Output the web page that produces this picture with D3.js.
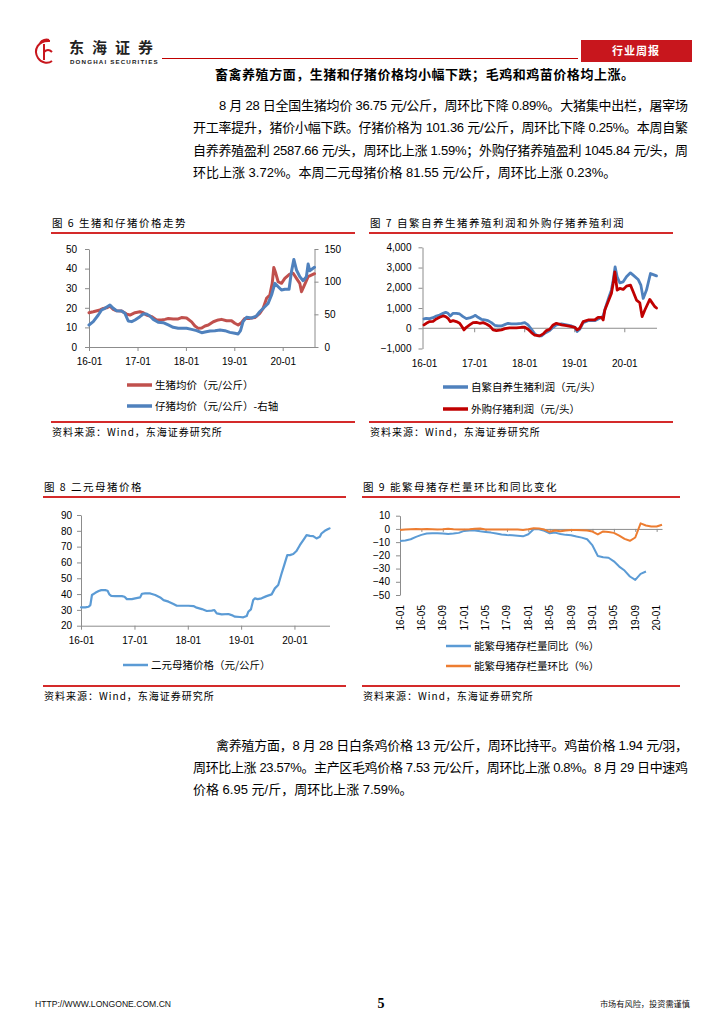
<!DOCTYPE html>
<html><head><meta charset="utf-8">
<script src="https://cdn.jsdelivr.net/npm/d3@7"></script>
<style>body{margin:0;background:#fff}svg{display:block}</style>
</head><body>
<svg id="c" width="724" height="1024"></svg>
<script>
// ---------- DATA ----------
const hogDates = ["2016-01-01","2016-02-02","2016-03-24","2016-04-18","2016-05-13","2016-06-07","2016-07-02","2016-07-27","2016-09-03","2016-10-11","2016-11-05","2016-12-13","2017-01-19","2017-02-13","2017-03-10","2017-04-17","2017-05-25","2017-07-01","2017-07-27","2017-08-21","2017-09-27","2017-11-04","2017-11-29","2018-01-06","2018-02-13","2018-03-10","2018-04-05","2018-04-30","2018-05-25","2018-06-19","2018-07-27","2018-09-02","2018-09-27","2018-11-04","2018-12-11","2019-01-05","2019-01-30","2019-02-24","2019-03-21","2019-04-28","2019-06-05","2019-07-12","2019-08-06","2019-09-01","2019-09-26","2019-10-14","2019-10-26","2019-11-10","2019-11-28","2019-12-23","2020-01-17","2020-02-23","2020-03-20","2020-04-14","2020-05-09","2020-05-22","2020-06-08","2020-07-11","2020-08-28"];
const hogPrice = [17.5,18,18.9,19.7,20,20.8,19.2,18.5,18.4,16.8,16.3,17.5,18,17.5,16.3,15.5,13.8,13.8,14.1,14.5,14.3,14.3,15,14.8,12.8,10.7,9.5,9.7,10.7,11.2,12.9,13.8,14.1,13.4,13.4,12.1,11.2,12.4,14.6,14.6,15,17.2,19.7,24.8,26.5,32.5,40.6,37.6,33.3,32.5,35,37.2,37.6,35,32.5,28.2,30.8,35.9,37.4];
const pigletDates = ["2016-01-01","2016-02-02","2016-03-11","2016-04-05","2016-04-30","2016-06-07","2016-07-02","2016-07-27","2016-09-03","2016-09-28","2016-10-23","2016-11-18","2016-12-13","2017-01-19","2017-02-13","2017-03-10","2017-04-04","2017-04-30","2017-06-06","2017-07-14","2017-08-21","2017-09-27","2017-11-04","2017-12-12","2018-01-06","2018-02-13","2018-03-23","2018-04-30","2018-05-25","2018-07-02","2018-08-08","2018-09-15","2018-10-22","2018-11-29","2019-01-05","2019-01-30","2019-02-17","2019-03-08","2019-04-03","2019-05-11","2019-06-17","2019-07-12","2019-08-19","2019-09-13","2019-10-09","2019-11-03","2019-11-28","2019-12-23","2020-01-17","2020-02-18","2020-03-07","2020-03-25","2020-04-14","2020-05-09","2020-06-03","2020-06-28","2020-07-11","2020-07-23","2020-08-28"];
const pigletPrice = [33.7,38.8,49,56.6,59.2,64.3,59.2,55.6,55,51.5,39.8,38.8,41.3,46.4,50.5,50.5,47.4,42.3,37.8,37.2,33.7,30.1,28.6,28.6,28.6,27,25,21.9,23,24.5,25,26,25,22.4,20.9,19.9,25,38.8,45.4,44.4,47.4,54,61.7,66.8,79.6,97.4,92.3,87.2,88.3,88.3,115,134,117.9,107.7,101.5,107.7,127,116.8,122];

const selfDates = ["2016-01-01","2016-01-18","2016-02-11","2016-03-07","2016-03-31","2016-04-24","2016-05-19","2016-06-07","2016-06-24","2016-07-11","2016-07-31","2016-08-24","2016-09-17","2016-10-12","2016-11-05","2016-11-29","2016-12-24","2017-01-10","2017-01-29","2017-02-22","2017-03-19","2017-04-12","2017-05-07","2017-05-31","2017-06-24","2017-07-19","2017-08-12","2017-09-05","2017-09-29","2017-11-05","2017-12-12","2018-01-05","2018-01-29","2018-02-23","2018-03-19","2018-04-12","2018-05-07","2018-05-31","2018-07-06","2018-07-31","2018-08-24","2018-09-30","2018-11-05","2018-12-12","2019-01-05","2019-01-22","2019-02-10","2019-03-07","2019-04-12","2019-05-31","2019-07-06","2019-07-31","2019-08-19","2019-09-12","2019-09-29","2019-10-12","2019-10-26","2019-11-10","2019-11-29","2019-12-24","2020-01-17","2020-02-15","2020-03-06","2020-04-11","2020-05-01","2020-05-18","2020-06-11","2020-07-10","2020-08-04","2020-08-23"];
const selfProfit = [459,490,475,525,607,656,738,787,738,607,738,738,705,574,475,508,574,640,541,443,410,377,279,148,115,115,180,246,213,213,246,279,164,-49,-279,-377,-377,-246,-115,49,164,213,164,115,49,-164,-49,279,377,377,492,607,1066,1557,1885,2377,3033,2541,2246,2295,2541,2738,2623,2410,2131,1475,1885,2705,2639,2588];
const buyDates = ["2016-01-01","2016-01-18","2016-02-11","2016-03-07","2016-03-31","2016-04-24","2016-05-19","2016-06-07","2016-06-24","2016-07-11","2016-07-31","2016-08-24","2016-09-17","2016-10-07","2016-10-19","2016-11-05","2016-11-29","2016-12-24","2017-01-17","2017-02-10","2017-03-07","2017-03-31","2017-04-24","2017-05-19","2017-06-12","2017-07-19","2017-08-12","2017-09-17","2017-11-05","2017-12-12","2018-01-05","2018-01-29","2018-02-23","2018-03-19","2018-04-24","2018-05-19","2018-06-12","2018-07-06","2018-07-31","2018-08-24","2018-09-30","2018-11-05","2018-12-12","2019-01-05","2019-01-22","2019-02-10","2019-03-07","2019-04-12","2019-05-31","2019-06-24","2019-07-18","2019-07-31","2019-08-12","2019-09-05","2019-09-29","2019-10-12","2019-10-24","2019-11-10","2019-11-29","2019-12-24","2020-01-17","2020-02-15","2020-03-06","2020-03-30","2020-04-23","2020-05-10","2020-05-30","2020-06-16","2020-07-05","2020-07-25","2020-08-11","2020-08-23"];
const buyProfit = [164,246,328,344,459,541,607,574,492,328,377,328,246,49,-82,49,164,279,295,246,279,213,115,-82,-115,-82,-16,16,16,49,49,-49,-213,-344,-377,-279,-115,-49,164,246,164,131,82,49,-82,0,328,410,410,541,541,410,902,1311,1721,2213,2787,1885,1967,1918,2082,2131,1803,1393,1262,574,902,1148,1426,1230,1066,1000];

const sowDates = ["2016-01-01","2016-01-30","2016-02-22","2016-03-05","2016-03-16","2016-04-08","2016-05-01","2016-05-19","2016-06-15","2016-07-01","2016-07-13","2016-07-26","2016-08-23","2016-10-07","2016-10-25","2016-11-10","2016-12-14","2017-01-06","2017-02-09","2017-02-21","2017-03-15","2017-04-19","2017-05-23","2017-06-26","2017-07-19","2017-08-22","2017-09-25","2017-10-18","2017-11-21","2018-01-05","2018-02-09","2018-03-03","2018-04-07","2018-05-11","2018-06-14","2018-07-02","2018-07-18","2018-08-21","2018-10-06","2018-10-28","2018-11-20","2018-12-24","2019-01-16","2019-02-08","2019-02-19","2019-03-09","2019-03-25","2019-04-06","2019-04-24","2019-05-21","2019-06-24","2019-07-29","2019-08-20","2019-09-12","2019-10-05","2019-10-23","2019-11-13","2019-12-01","2019-12-24","2020-01-15","2020-02-07","2020-03-12","2020-03-24","2020-04-16","2020-05-08","2020-05-31","2020-06-23","2020-07-04","2020-07-27","2020-08-19","2020-08-28"];
const sowPrice = [31.6,31.6,32,33,39.4,40.8,41.9,42.5,42.5,42.1,39.8,38.9,38.7,38.7,38.3,36.8,36.8,37.3,37.9,40.2,40.4,40.4,39.4,37.9,36.2,35.2,33.7,32.6,32.6,32.6,32.4,31.4,30.5,29.3,29.5,29.9,27.8,27.2,27.4,26.7,25.7,25.5,25.3,26.1,28.8,30.3,36.2,37.3,36.8,37.3,38.7,39.8,43.6,45.7,53,58.3,64.6,64.6,65.3,67.2,70.9,75.6,77.3,76.8,76.6,75.2,76.2,78.3,80,81.1,81.55];

const sowMonths = ["16-01","16-02","16-03","16-04","16-05","16-06","16-07","16-08","16-09","16-10","16-11","16-12","17-01","17-02","17-03","17-04","17-05","17-06","17-07","17-08","17-09","17-10","17-11","17-12","18-01","18-02","18-03","18-04","18-05","18-06","18-07","18-08","18-09","18-10","18-11","18-12","19-01","19-02","19-03","19-04","19-05","19-06","19-07","19-08","19-09","19-10","19-11","19-12","20-01","20-02"];
const sowYoY = [-9.1,-8.8,-7.8,-6,-4.5,-3.5,-3.3,-3.3,-3.5,-3.8,-3.5,-3,-1.5,-1.2,-1.2,-1.8,-2.3,-2.8,-3.5,-4.3,-4.6,-4.8,-5.2,-5.6,-4,-0.3,-0.2,-1.5,-3.3,-2.8,-3.8,-4.5,-4.8,-5.8,-6.6,-7.8,-12.5,-20.5,-21.5,-21.8,-24.5,-28.5,-31.5,-36,-38.6,-34,-32.2];
const sowMoM = [-0.8,-0.5,-0.2,0,-0.3,0,-0.2,-0.5,-0.3,0.2,-0.3,-0.5,-0.5,-0.2,0.2,0.3,-0.5,-0.5,-0.5,-0.5,-0.5,-0.5,-0.5,-0.8,-0.3,0.5,0.3,-0.5,-2.2,-1.2,-1.8,-1.2,-0.8,-0.8,-1,-1.2,-2,-4.2,-1.9,-2.3,-3,-5,-7.5,-9,-6.5,4.2,2.6,1.8,1.8,3.2];

const ticks6L = [0,10,20,30,40,50], ticks6R = [0,50,100,150];
const ticks7 = [-1000,0,1000,2000,3000,4000];
const ticks8 = [20,30,40,50,60,70,80,90];
const ticks9 = [-50,-40,-30,-20,-10,0,10];
const yearTicks = ["2016-01-01","2017-01-01","2018-01-01","2019-01-01","2020-01-01"];

// ---------- SETUP ----------
const svg = d3.select("#c");
const P = d3.timeParse("%Y-%m-%d");
const FN = "'Liberation Sans','Noto Sans CJK SC',sans-serif";
const CJK = "'Noto Sans CJK SC','Liberation Sans',sans-serif";
const RED = "#c00000", AX = "#8c8c8c";
const yT = yearTicks.map(P);
const fmtY = d3.timeFormat("%y-%m");

function txt(x,y,s,o={}){
  const t = svg.append("text").attr("x",x).attr("y",y).text(s)
    .attr("font-family",o.ff||CJK).attr("font-size",o.fs||10).attr("fill",o.fill||"#000");
  if(o.anchor) t.attr("text-anchor",o.anchor);
  if(o.fw) t.attr("font-weight",o.fw);
  if(o.ls) t.attr("letter-spacing",o.ls);
  if(o.tl){ t.attr("textLength",o.tl).attr("lengthAdjust","spacing"); }
  return t;
}
function hline(x1,x2,y,c,w){ svg.append("line").attr("x1",x1).attr("x2",x2).attr("y1",y).attr("y2",y).attr("stroke",c).attr("stroke-width",w); }
function styleAxis(g){
  g.selectAll("path,line").attr("stroke",AX).attr("stroke-width",1);
  g.selectAll("text").attr("font-family",FN).attr("font-size",10).attr("fill","#000");
}
function drawLine(x,y,dates,vals,color,w){
  const pts = dates.map((d,i)=>({d:P(d),v:vals[i]}));
  svg.append("path").datum(pts).attr("fill","none").attr("stroke",color).attr("stroke-width",w)
    .attr("stroke-linejoin","round").attr("stroke-linecap","round")
    .attr("d",d3.line().x(p=>x(p.d)).y(p=>y(p.v)));
}
function legend(x,y,color,w,label){
  hline(x,x+25,y,color,w);
  txt(x+28,y+3.6,label,{fs:10.5});
}
function panelFrame(x1,x2,yTitleLine,yBottom,title){
  txt(x1+1,yTitleLine-6,title,{fs:10.5,ls:1.5});
  hline(x1,x2,yTitleLine,"#d42a2a",2);
  hline(x1,x2,yBottom,"#d42a2a",2);
  txt(x1+1,yBottom+14,"资料来源：Wind，东海证券研究所",{fs:10,ls:1});
}

// ---------- HEADER ----------
svg.append("path").attr("d","M50,41 C38,40 33,50 38,58 C41,63 48,64 52,61 M44,44 L44,60 M44,52 C47,49 50,50 52,52 M40,43 C42,40 46,39 49,40")
  .attr("fill","none").attr("stroke","#c8161d").attr("stroke-width",2);
txt(69,52.5,"东海证券",{fs:15,fw:"bold",ls:8,fill:"#222"});
txt(70,63.5,"DONGHAI SECURITIES",{ff:FN,fs:6.2,fw:"bold",ls:1.15,fill:"#222"});
hline(162,578,58.5,RED,1.2);
svg.append("rect").attr("x",581).attr("y",40).attr("width",111).attr("height",22).attr("fill","#c8161d");
txt(636,55,"行业周报",{fs:11,fw:"bold",fill:"#fff",anchor:"middle",ls:1});

// ---------- TOP TEXT ----------
txt(215,79,"畜禽养殖方面，生猪和仔猪价格均小幅下跌；毛鸡和鸡苗价格均上涨。",{fs:13,fw:"bold",tl:419});
const BF = "'Liberation Sans','Noto Sans CJK SC',sans-serif";
txt(219,109.5,"8 月 28 日全国生猪均价 36.75 元/公斤，周环比下降 0.89%。大猪集中出栏，屠宰场",{ff:BF,fs:13,tl:469});
txt(193,132,"开工率提升，猪价小幅下跌。仔猪价格为 101.36 元/公斤，周环比下降 0.25%。本周自繁",{ff:BF,fs:13,tl:495});
txt(193,154.5,"自养养殖盈利 2587.66 元/头，周环比上涨 1.59%；外购仔猪养殖盈利 1045.84 元/头，周",{ff:BF,fs:13,tl:495});
txt(193,177,"环比上涨 3.72%。本周二元母猪价格 81.55 元/公斤，周环比上涨 0.23%。",{ff:BF,fs:13});

// ---------- CHART 6 ----------
panelFrame(51,355,233,422,"图 6 生猪和仔猪价格走势");
{
  const x = d3.scaleTime().domain([P("2016-01-01"),P("2020-08-28")]).range([89,314.5]);
  const yL = d3.scaleLinear().domain([0,50]).range([347,249]);
  const yR = d3.scaleLinear().domain([0,150]).range([347,249]);
  const gx = svg.append("g").attr("transform","translate(0,347)")
    .call(d3.axisBottom(x).tickValues(yT).tickFormat(fmtY).tickSize(4).tickSizeOuter(0).tickPadding(7));
  styleAxis(gx);
  const gl = svg.append("g").attr("transform","translate(89,0)")
    .call(d3.axisLeft(yL).tickValues(ticks6L).tickSize(4).tickSizeOuter(0).tickPadding(8));
  styleAxis(gl);
  const gr = svg.append("g").attr("transform","translate(314.5,0)")
    .call(d3.axisRight(yR).tickValues(ticks6R).tickSize(4).tickSizeOuter(0).tickPadding(6));
  styleAxis(gr);
  drawLine(x,yL,hogDates,hogPrice,"#c0504d",3);
  drawLine(x,yR,pigletDates,pigletPrice,"#4f81bd",3);
  legend(127,385,"#c0504d",3.5,"生猪均价（元/公斤）");
  legend(127,406,"#4f81bd",3.5,"仔猪均价（元/公斤）-右轴");
}

// ---------- CHART 7 ----------
panelFrame(369,673,233,422,"图 7 自繁自养生猪养殖利润和外购仔猪养殖利润");
{
  const x = d3.scaleTime().domain([P("2016-01-01"),P("2020-08-23")]).range([424,656.5]);
  const y = d3.scaleLinear().domain([-1000,4000]).range([348.5,247.3]);
  const gz = svg.append("g").attr("transform",`translate(0,${y(0)})`)
    .call(d3.axisBottom(x).tickValues(yT.slice(1)).tickFormat("").tickSize(4).tickSizeOuter(0));
  gz.select(".domain").attr("d",`M422.5,0H657`);
  styleAxis(gz);
  const gx = svg.append("g").attr("transform",`translate(0,${y(-1000)})`)
    .call(d3.axisBottom(x).tickValues(yT).tickFormat(fmtY).tickSize(0).tickPadding(11));
  gx.select(".domain").remove();
  styleAxis(gx);
  const gl = svg.append("g").attr("transform","translate(422.5,0)")
    .call(d3.axisLeft(y).tickValues(ticks7).tickFormat(d3.format(",")).tickSize(4).tickSizeOuter(0).tickPadding(7));
  styleAxis(gl);
  drawLine(x,y,selfDates,selfProfit,"#4f81bd",2.8);
  drawLine(x,y,buyDates,buyProfit,"#c00000",2.8);
  legend(443,387,"#4f81bd",3.5,"自繁自养生猪利润（元/头）");
  legend(443,409,"#c00000",3.5,"外购仔猪利润（元/头）");
}

// ---------- CHART 8 ----------
panelFrame(43,346,497,686,"图 8 二元母猪价格");
{
  const x = d3.scaleTime().domain([P("2016-01-01"),P("2020-08-28")]).range([81,329.5]);
  const y = d3.scaleLinear().domain([20,90]).range([625.7,515]);
  const gx = svg.append("g").attr("transform","translate(0,625.7)")
    .call(d3.axisBottom(x).tickValues(yT).tickFormat(fmtY).tickSize(4).tickSizeOuter(0).tickPadding(7));
  styleAxis(gx);
  const gl = svg.append("g").attr("transform","translate(81,0)")
    .call(d3.axisLeft(y).tickValues(ticks8).tickSize(4).tickSizeOuter(0).tickPadding(5));
  styleAxis(gl);
  drawLine(x,y,sowDates,sowPrice,"#5b9bd5",2.2);
  legend(123,665,"#5b9bd5",2.5,"二元母猪价格（元/公斤）");
}

// ---------- CHART 9 ----------
panelFrame(362,680,497,686,"图 9 能繁母猪存栏量环比和同比变化");
{
  const x = d3.scalePoint().domain(sowMonths).range([400,662]);
  const y = d3.scaleLinear().domain([-50,10]).range([595,515.7]);
  const labs = sowMonths.filter((m,i)=>i%4===0);
  const gz = svg.append("g").attr("transform",`translate(0,${y(0)})`)
    .call(d3.axisBottom(x).tickValues(labs).tickFormat("").tickSize(3).tickSizeOuter(0));
  styleAxis(gz);
  const gl = svg.append("g").attr("transform","translate(400,0)")
    .call(d3.axisLeft(y).tickValues(ticks9).tickSize(4).tickSizeOuter(0).tickPadding(6));
  styleAxis(gl);
  svg.append("g").selectAll("text").data(labs).join("text")
    .attr("transform",m=>`translate(${x(m)},605) rotate(-90)`)
    .attr("dy","0.35em").attr("text-anchor","end")
    .attr("font-family",FN).attr("font-size",10).text(m=>m);
  const lineGen = d3.line().x((v,i)=>x(sowMonths[i])).y(v=>y(v));
  svg.append("path").datum(sowYoY).attr("fill","none").attr("stroke","#5b9bd5").attr("stroke-width",2).attr("stroke-linejoin","round").attr("d",lineGen);
  svg.append("path").datum(sowMoM).attr("fill","none").attr("stroke","#ed7d31").attr("stroke-width",2).attr("stroke-linejoin","round").attr("d",lineGen);
  legend(446,646,"#5b9bd5",2.5,"能繁母猪存栏量同比（%）");
  legend(446,666,"#ed7d31",2.5,"能繁母猪存栏量环比（%）");
}

// ---------- BOTTOM TEXT ----------
txt(216,749.5,"禽养殖方面，8 月 28 日白条鸡价格 13 元/公斤，周环比持平。鸡苗价格 1.94 元/羽，",{ff:BF,fs:13,tl:472});
txt(193,771.5,"周环比上涨 23.57%。主产区毛鸡价格 7.53 元/公斤，周环比上涨 0.8%。8 月 29 日中速鸡",{ff:BF,fs:13,tl:495});
txt(193,793.5,"价格 6.95 元/斤，周环比上涨 7.59%。",{ff:BF,fs:13});

// ---------- FOOTER ----------
txt(35,1007,"HTTP://WWW.LONGONE.COM.CN",{ff:FN,fs:8.6,fill:"#111"});
txt(381,1008,"5",{ff:"'Liberation Serif',serif",fs:14,fw:"bold",anchor:"middle"});
txt(690,1007,"市场有风险，投资需谨慎",{fs:8.2,anchor:"end",fill:"#111"});
</script>
</body></html>
